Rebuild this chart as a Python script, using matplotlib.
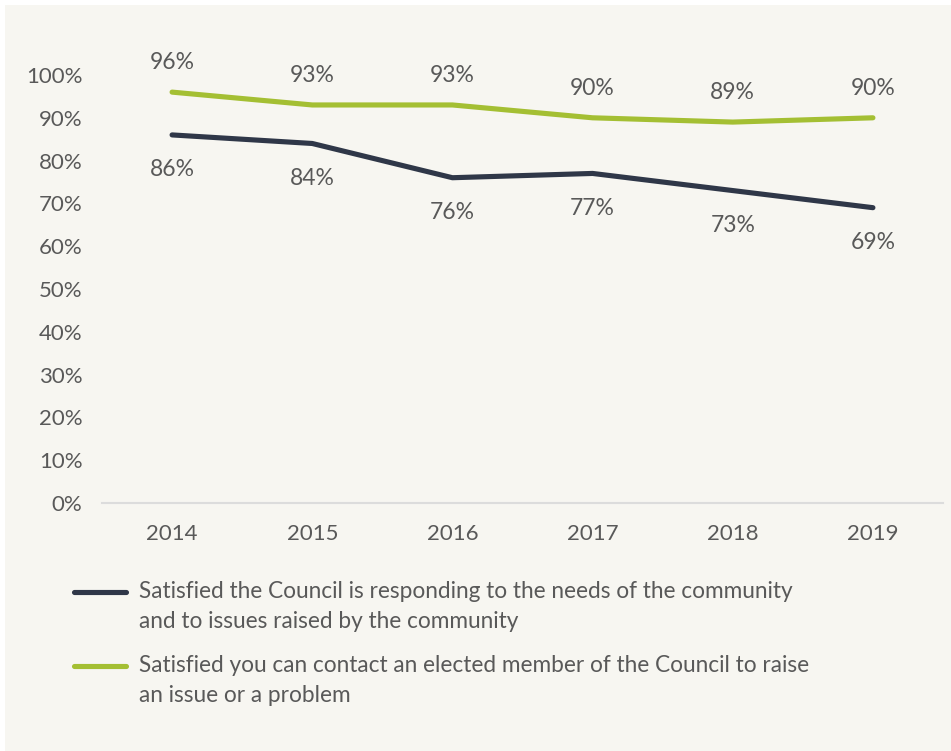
import matplotlib
matplotlib.use('Agg')
import matplotlib.pyplot as plt
from matplotlib.lines import Line2D

# Data
years = ['2014', '2015', '2016', '2017', '2018', '2019']
responding = [86, 84, 76, 77, 73, 69]
contact = [96, 93, 93, 90, 89, 90]
yticks = [0, 10, 20, 30, 40, 50, 60, 70, 80, 90, 100]
legend_labels = [
    'Satisfied the Council is responding to the needs of the community\nand to issues raised by the community',
    'Satisfied you can contact an elected member of the Council to raise\nan issue or a problem',
]

dark = '#2f3748'
green = '#a4bf33'
bg = '#f7f6f1'
txt = '#595959'

plt.rcParams['font.family'] = ['Lato', 'DejaVu Sans']

fig = plt.figure(figsize=(9.51, 7.51), dpi=100)
fig.patch.set_facecolor('white')
W, H = 951, 751
# off-white panel behind everything
fig.patches.append(plt.Rectangle((5 / W, 0), 946 / W, 746 / H,
                                 transform=fig.transFigure, facecolor=bg,
                                 edgecolor='none', zorder=-5))

ax = fig.add_axes([102 / W, 1 - 503 / H, (943 - 102) / W, (503 - 75) / H])
ax.set_facecolor('none')
ax.set_zorder(2)

x = range(len(years))
ax.plot(x, contact, color=green, lw=3.7, solid_capstyle='round', clip_on=False)
ax.plot(x, responding, color=dark, lw=3.7, solid_capstyle='round', clip_on=False)

for i, v in enumerate(contact):
    ax.annotate(f'{v}%', (i, v), xytext=(0, 21), textcoords='offset points',
                ha='center', va='center', fontsize=16.5, color=txt,
                annotation_clip=False)
for i, v in enumerate(responding):
    ax.annotate(f'{v}%', (i, v), xytext=(0, -25), textcoords='offset points',
                ha='center', va='center', fontsize=16.5, color=txt,
                annotation_clip=False)

ax.set_xlim(-0.5, len(years) - 0.5)
ax.set_ylim(0, 100)
ax.set_xticks(list(x))
ax.set_xticklabels(years)
ax.set_yticks(yticks)
ax.set_yticklabels([f'{t}%' for t in yticks])
ax.tick_params(axis='both', length=0, labelsize=16, labelcolor=txt)
ax.tick_params(axis='x', pad=15)
ax.tick_params(axis='y', pad=14)
for s in ['top', 'right', 'left']:
    ax.spines[s].set_visible(False)
ax.spines['bottom'].set_color('#dcdcdc')
ax.spines['bottom'].set_linewidth(1.5)

# legend drawn by hand
for k, (lab, col) in enumerate(zip(legend_labels, [dark, green])):
    y0 = [592, 666][k]
    fig.add_artist(Line2D([74 / W, 126 / W], [1 - y0 / H] * 2, color=col, lw=3.7,
                          solid_capstyle='round', transform=fig.transFigure))
    fig.text(139 / W, 1 - (y0 - 11) / H, lab, ha='left', va='top', fontsize=16.3,
             color=txt, linespacing=1.5)

fig.savefig('out.png', dpi=100, facecolor=fig.get_facecolor())
